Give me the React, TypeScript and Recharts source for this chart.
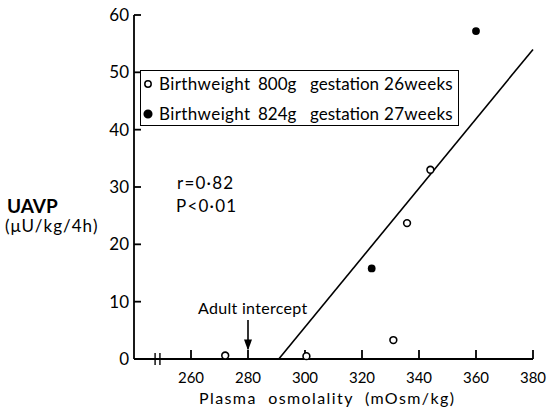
import React from 'react';
import { ComposedChart, Scatter, XAxis, YAxis, ReferenceLine } from 'recharts';

// axis ticks
const xTicks = [260, 280, 300, 320, 340, 360, 380];
const yTicks = [0, 10, 20, 30, 40, 50, 60];

// birthweight 800g, 26 weeks (open circles)
const openPoints = [
  { x: 272, y: 0.6 },
  { x: 300.5, y: 0.5 },
  { x: 331, y: 3.3 },
  { x: 335.8, y: 23.7 },
  { x: 344, y: 33 },
];

// birthweight 824g, 27 weeks (filled circles)
const filledPoints = [
  { x: 323.4, y: 15.8 },
  { x: 360, y: 57.2 },
];

// regression line end points
const fitLine = [
  { x: 290.8, y: 0 },
  { x: 380, y: 54 },
];

// adult intercept arrow
const arrowShaft = [
  { x: 280, y: 1.8 },
  { x: 280, y: 6.8 },
];
const arrowTip = [{ x: 280, y: 1.5 }];

// axis break marks
const breakMarks = [247.4, 249.1];

const legendRows = [
  { filled: false, weight: '800g', gestation: '26weeks' },
  { filled: true, weight: '824g', gestation: '27weeks' },
];

const FONT = 'Lato, "DejaVu Sans", sans-serif';

const OpenDot = (p: any) => (
  <circle cx={p.cx} cy={p.cy} r={3.4} fill="#fff" stroke="#000" strokeWidth={1.6} />
);
const FilledDot = (p: any) => <circle cx={p.cx} cy={p.cy} r={3.9} fill="#000" />;
const ArrowHead = (p: any) => (
  <polygon points={`${p.cx - 4},${p.cy - 11} ${p.cx + 4},${p.cy - 11} ${p.cx},${p.cy}`} fill="#000" />
);

const txt = (left: number, top: number, size: number, extra: any = {}) => ({
  position: 'absolute' as const,
  left,
  top,
  fontSize: size,
  lineHeight: `${size}px`,
  whiteSpace: 'nowrap' as const,
  fontFamily: FONT,
  color: '#000',
  ...extra,
});

export default function App() {
  return (
    <div style={{ position: 'absolute', left: 0, top: 0, width: 547, height: 408, background: '#fff', overflow: 'hidden' }}>
      <ComposedChart width={547} height={408} margin={{ top: 15, right: 14, bottom: 0, left: 0 }}>
        <XAxis
          dataKey="x"
          type="number"
          domain={[240, 380]}
          ticks={xTicks}
          height={49}
          tickSize={-9}
          tickMargin={22}
          stroke="#000"
          strokeWidth={1.8}
          tick={{ fill: '#000', fontSize: 15, fontFamily: FONT }}
        />
        <YAxis
          dataKey="y"
          type="number"
          domain={[0, 60]}
          ticks={yTicks}
          width={134}
          tickSize={-7}
          tickMargin={12}
          stroke="#000"
          strokeWidth={1.8}
          tick={{ fill: '#000', fontSize: 17, fontFamily: FONT }}
        />
        {breakMarks.map((b) => (
          <ReferenceLine
            key={b}
            segment={[{ x: b, y: -1.05 }, { x: b, y: 1.05 }]}
            stroke="#000"
            strokeWidth={1.4}
            ifOverflow="visible"
          />
        ))}
        <ReferenceLine segment={fitLine} stroke="#000" strokeWidth={1.6} />
        <ReferenceLine segment={arrowShaft} stroke="#000" strokeWidth={1.6} />
        <Scatter data={arrowTip} shape={ArrowHead} isAnimationActive={false} />
        <Scatter data={openPoints} shape={OpenDot} isAnimationActive={false} />
        <Scatter data={filledPoints} shape={FilledDot} isAnimationActive={false} />
      </ComposedChart>

      {/* legend box */}
      <div style={{ position: 'absolute', left: 140, top: 70, width: 317, height: 54, border: '1.6px solid #000' }} />
      {legendRows.map((r, i) => {
        const cy = 84 + i * 30;
        return (
          <React.Fragment key={i}>
            <svg style={{ position: 'absolute', left: 143, top: cy - 5 }} width={10} height={10}>
              <circle cx={5} cy={5} r={r.filled ? 3.8 : 3.2} fill={r.filled ? '#000' : '#fff'} stroke="#000" strokeWidth={1.5} />
            </svg>
            <span style={txt(159, cy - 9, 17, { letterSpacing: 0.4 })}>Birthweight</span>
            <span style={txt(258, cy - 9, 17)}>{r.weight}</span>
            <span style={txt(310, cy - 9, 17)}>gestation</span>
            <span style={txt(384, cy - 9, 17, { letterSpacing: 0.3 })}>{r.gestation}</span>
          </React.Fragment>
        );
      })}

      <span style={txt(7, 196, 19, { fontWeight: 700 })}>UAVP</span>
      <span style={txt(5, 217, 17, { letterSpacing: 1 })}>(μU/kg/4h)</span>
      <span style={txt(177, 174, 17, { letterSpacing: 1.2 })}>r=0·82</span>
      <span style={txt(176, 197, 17, { letterSpacing: 1.2 })}>P&lt;0·01</span>
      <span style={txt(198, 300, 16, { letterSpacing: 0.3 })}>Adult intercept</span>
      <span style={txt(199, 390, 16, { letterSpacing: 1.4, wordSpacing: 6 })}>Plasma osmolality (mOsm/kg)</span>
    </div>
  );
}
